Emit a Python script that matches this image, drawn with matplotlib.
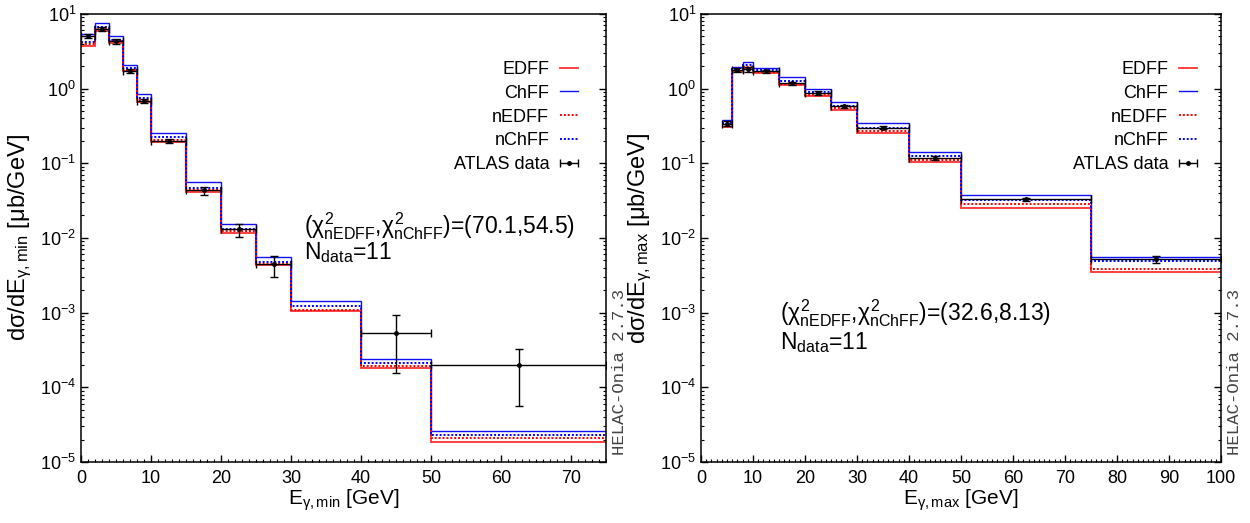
import numpy as np
import matplotlib
matplotlib.use("Agg")
import matplotlib.pyplot as plt
from matplotlib.ticker import MultipleLocator, FixedLocator, NullFormatter, LogFormatterSciNotation

plt.rcParams['font.family'] = ['Liberation Sans', 'DejaVu Sans']
plt.rcParams['mathtext.fontset'] = 'custom'
plt.rcParams['mathtext.rm'] = 'Liberation Sans'
plt.rcParams['mathtext.it'] = 'Liberation Sans'
plt.rcParams['mathtext.bf'] = 'Liberation Sans:bold'

# ---- left panel: E_gamma,min ----
edges_min = [0, 2, 4, 6, 8, 10, 15, 20, 25, 30, 40, 50, 75]
edff_min = [3.75, 5.9, 4.1, 1.70, 0.67, 0.195, 0.0415, 0.0116, 0.0043, 1.04e-3, 1.79e-4, 1.87e-5]
chff_min = [5.3, 7.5, 5.0, 2.06, 0.84, 0.255, 0.0556, 0.0152, 0.0055, 1.41e-3, 2.43e-4, 2.6e-5]
nedff_min = [3.95, 6.2, 4.3, 1.76, 0.70, 0.205, 0.0435, 0.0122, 0.0045, 1.10e-3, 1.92e-4, 2.07e-5]
nchff_min = [4.2, 6.6, 4.5, 1.86, 0.74, 0.222, 0.047, 0.0131, 0.0048, 1.24e-3, 2.12e-4, 2.30e-5]

data_lo_min = [0, 2, 4, 6, 8, 10, 15, 20, 25, 40, 50]
data_hi_min = [2, 4, 6, 8, 10, 15, 20, 25, 30, 50, 75]
data_x_min = [1, 3, 5, 7, 9, 12.5, 17.5, 22.5, 27.5, 45, 62.5]
data_y_min = [5.1, 6.3, 4.3, 1.72, 0.68, 0.20, 0.0435, 0.0130, 0.0045, 5.4e-4, 1.96e-4]
data_dn_min = [0.3, 0.4, 0.3, 0.12, 0.05, 0.014, 0.0055, 0.0028, 0.0015, 3.84e-4, 1.39e-4]
data_up_min = [0.3, 0.4, 0.3, 0.12, 0.05, 0.014, 0.0045, 0.0025, 0.0013, 3.8e-4, 1.34e-4]

# ---- right panel: E_gamma,max ----
edges_max = [4, 6, 8, 10, 15, 20, 25, 30, 40, 50, 75, 100]
edff_max = [0.31, 1.64, 1.85, 1.59, 1.11, 0.80, 0.52, 0.257, 0.104, 0.0253, 0.0035]
chff_max = [0.38, 1.95, 2.23, 1.91, 1.41, 1.00, 0.66, 0.343, 0.143, 0.0374, 0.0056]
nedff_max = [0.33, 1.70, 1.95, 1.65, 1.15, 0.83, 0.54, 0.27, 0.110, 0.0283, 0.0038]
nchff_max = [0.35, 1.80, 2.05, 1.75, 1.27, 0.90, 0.59, 0.30, 0.123, 0.0318, 0.0049]

data_lo_max = [4, 6, 8, 10, 15, 20, 25, 30, 40, 50, 75]
data_hi_max = [6, 8, 10, 15, 20, 25, 30, 40, 50, 75, 100]
data_x_max = [5, 7, 9, 12.5, 17.5, 22.5, 27.5, 35, 45, 62.5, 87.5]
data_y_max = [0.34, 1.77, 1.80, 1.69, 1.18, 0.87, 0.575, 0.30, 0.119, 0.0327, 0.0052]
data_err_max = [0.025, 0.12, 0.13, 0.10, 0.06, 0.05, 0.035, 0.016, 0.007, 0.0018, 0.0006]

decades = [10.0 ** e for e in range(-5, 2)]
minor_ticks = [m * 10.0 ** e for e in range(-5, 1) for m in range(2, 10)]

fig = plt.figure(figsize=(12.5, 5.23), dpi=100)
ax1 = fig.add_axes([0.0648, 0.1166, 0.42, 0.857])
ax2 = fig.add_axes([0.5608, 0.1166, 0.416, 0.857])


def draw(ax, edges, edff, chff, nedff, nchff, x, y, lo, hi, dn, up, xmax, xlabel, ylabel,
         chi_text, chi_pos, chi_gap, leg_x):
    ax.stairs(edff, edges, baseline=None, color='#ff3030', lw=1.3, label='EDFF')
    ax.stairs(chff, edges, baseline=None, color='#1010ff', lw=1.0, label='ChFF')
    ax.stairs(nedff, edges, baseline=None, color='red', lw=1.4, ls=(0, (1, 1)), label='nEDFF')
    ax.stairs(nchff, edges, baseline=None, color='blue', lw=1.4, ls=(0, (1, 1)), label='nChFF')
    x = np.array(x)
    xerr = [x - np.array(lo), np.array(hi) - x]
    ax.errorbar(x, y, xerr=xerr, yerr=[dn, up], fmt='o', ms=2.5, color='black',
                ecolor='black', elinewidth=1.0, capsize=3, capthick=1.0)
    # legend proxy: horizontal bar only, like the reference key
    ax.errorbar([np.nan], [np.nan], xerr=[[1], [1]], fmt='o', ms=2.5, color='black',
                elinewidth=1.0, capsize=3, capthick=1.0, label='ATLAS data')

    ax.set_yscale('log')
    ax.set_ylim(1e-5, 10)
    ax.set_xlim(0, xmax)
    ax.xaxis.set_major_locator(MultipleLocator(10))
    ax.xaxis.set_minor_locator(MultipleLocator(1))
    ax.yaxis.set_major_locator(FixedLocator(decades))
    ax.yaxis.set_major_formatter(LogFormatterSciNotation())
    ax.yaxis.set_minor_locator(FixedLocator(minor_ticks))
    ax.yaxis.set_minor_formatter(NullFormatter())
    ax.tick_params(which='both', direction='in', top=False, right=True, labelsize=13)
    ax.tick_params(which='major', length=5, width=1)
    ax.tick_params(which='minor', length=2.5, width=0.8)
    ax.tick_params(axis='x', pad=6)
    for s in ax.spines.values():
        s.set_linewidth(1.1)
    ax.set_xlabel(xlabel, fontsize=15, labelpad=0)
    ax.set_ylabel(ylabel, fontsize=17, labelpad=4)

    ax.legend(loc='upper right', bbox_to_anchor=(leg_x, 0.895), frameon=False,
              markerfirst=False, fontsize=13, handlelength=1.0, handletextpad=0.6,
              labelspacing=0.38, borderpad=0, borderaxespad=0)
    ax.text(chi_pos[0], chi_pos[1], chi_text, transform=ax.transAxes, fontsize=16.5,
            ha='left', va='baseline')
    ax.text(chi_pos[0], chi_pos[1] - chi_gap, r'N$_{\rm data}$=11', transform=ax.transAxes,
            fontsize=16.5, ha='left', va='baseline')
    ax.text(1.026, 0.015, 'HELAC-Onia 2.7.3', transform=ax.transAxes, rotation=90,
            family='Liberation Mono', fontsize=12.5, color='#444444', ha='center', va='bottom')


draw(ax1, edges_min, edff_min, chff_min, nedff_min, nchff_min,
     data_x_min, data_y_min, data_lo_min, data_hi_min, data_dn_min, data_up_min, 75,
     r'E$_{\gamma\mathrm{,min}}$ [GeV]', r'd$\sigma$/dE$_{\gamma\mathrm{,min}}$ [$\mu$b/GeV]',
     r'($\chi^2_{\rm nEDFF}$,$\chi^2_{\rm nChFF}$)=(70.1,54.5)', (0.425, 0.511), 0.058, 0.947)

draw(ax2, edges_max, edff_max, chff_max, nedff_max, nchff_max,
     data_x_max, data_y_max, data_lo_max, data_hi_max, data_err_max, data_err_max, 100,
     r'E$_{\gamma\mathrm{,max}}$ [GeV]', r'd$\sigma$/dE$_{\gamma\mathrm{,max}}$ [$\mu$b/GeV]',
     r'($\chi^2_{\rm nEDFF}$,$\chi^2_{\rm nChFF}$)=(32.6,8.13)', (0.152, 0.317), 0.066, 0.954)

fig.savefig('out.png', dpi=100)
